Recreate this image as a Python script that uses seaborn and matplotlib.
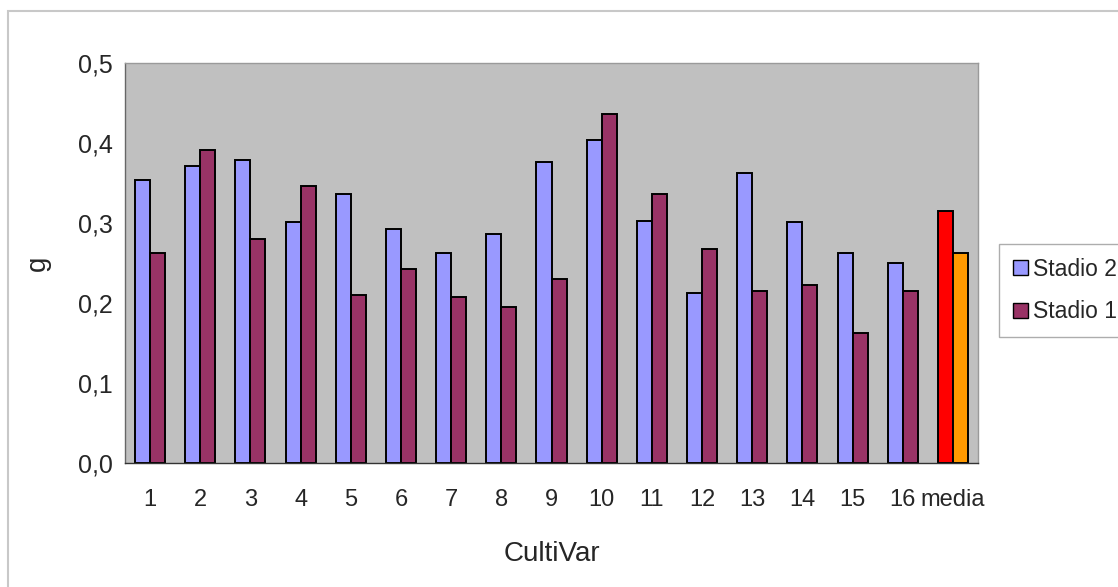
import matplotlib
matplotlib.use("Agg")
import matplotlib.pyplot as plt
import seaborn as sns
import pandas as pd
import numpy as np
from matplotlib.patches import Rectangle

categories = [str(i) for i in range(1, 17)] + ["media"]
stadio2 = [0.354, 0.371, 0.379, 0.301, 0.336, 0.293, 0.263, 0.286, 0.376,
           0.404, 0.303, 0.212, 0.363, 0.301, 0.263, 0.250, 0.315]
stadio1 = [0.263, 0.391, 0.280, 0.346, 0.210, 0.243, 0.208, 0.195, 0.230,
           0.436, 0.336, 0.268, 0.215, 0.223, 0.163, 0.215, 0.263]
series_names = ["Stadio 2", "Stadio 1"]
yticks = [0.0, 0.1, 0.2, 0.3, 0.4, 0.5]
ytick_labels = ["0,0", "0,1", "0,2", "0,3", "0,4", "0,5"]

df = pd.DataFrame({
    "CultiVar": categories * 2,
    "g": stadio2 + stadio1,
    "Stadio": ["Stadio 2"] * len(categories) + ["Stadio 1"] * len(categories),
})

sns.set_style("white")
plt.rcParams["font.family"] = ["Liberation Sans", "DejaVu Sans"]

fig = plt.figure(figsize=(11.18, 5.87), dpi=100)
ax = fig.add_axes([0.1118, 0.2112, 0.8748 - 0.1118, 0.8927 - 0.2112])
ax.set_facecolor("#C0C0C0")

sns.barplot(data=df, x="CultiVar", y="g", hue="Stadio", hue_order=series_names,
            order=categories, palette=["#9999FF", "#993366"], width=0.6,
            saturation=1, edgecolor="black", linewidth=1.4, ax=ax, legend=True)

# recolor media bars
ax.containers[0].patches[-1].set_facecolor("#FF0000")
ax.containers[1].patches[-1].set_facecolor("#FF9900")

ax.set_ylim(0, 0.5)
ax.set_xlim(-0.5, len(categories) - 0.5)
ax.set_yticks(yticks)
ax.set_yticklabels(ytick_labels, fontsize=18)
ax.set_xticks(range(len(categories)))
ax.set_xticklabels(categories, fontsize=17)
ax.set_xticks(np.arange(-0.5, len(categories), 1.0), minor=True)
ax.tick_params(axis="x", which="major", length=0, pad=19)
ax.tick_params(axis="x", which="minor", length=6, color="#555555", width=0.8)
ax.tick_params(axis="y", which="major", length=6, color="#555555", width=0.8, pad=3)
ax.set_xlabel("CultiVar", fontsize=20, labelpad=21)
ax.set_ylabel("g", fontsize=20, labelpad=19)

for s in ["top", "right"]:
    ax.spines[s].set_color("#9a9a9a")
    ax.spines[s].set_linewidth(1.0)
ax.spines["left"].set_color("#666666")
ax.spines["bottom"].set_color("#333333")
ax.spines["left"].set_linewidth(1.0)
ax.spines["bottom"].set_linewidth(1.0)

leg = ax.legend(loc="upper left", bbox_to_anchor=(999 / 1118, 1 - 244 / 587), bbox_transform=fig.transFigure,
                fontsize=16.5, frameon=True, fancybox=False, edgecolor="#999999",
                handlelength=0.65, handleheight=0.65, handletextpad=0.25,
                borderpad=0.6, labelspacing=0.85, borderaxespad=0)
leg.get_frame().set_linewidth(1.0)
for h in leg.legend_handles:
    h.set_edgecolor("black")
    h.set_linewidth(1.0)

fig.patches.append(Rectangle((8 / 1118, -0.1), 1.2, 1.1 - 11 / 587, transform=fig.transFigure,
                             fill=False, edgecolor="#c8c8c8", linewidth=1.5))

fig.savefig("out.png", dpi=100)
